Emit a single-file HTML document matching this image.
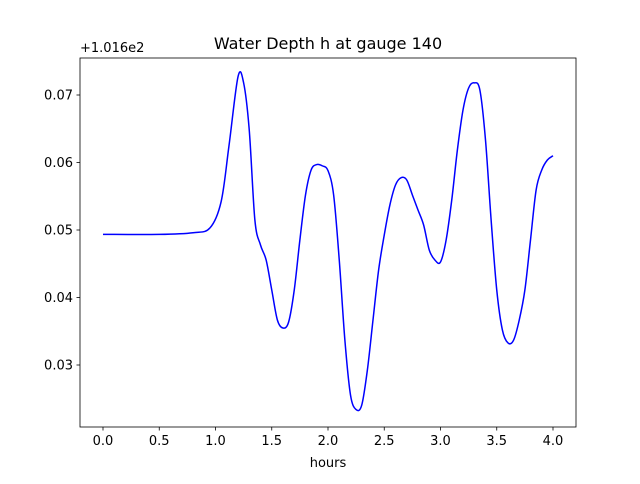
<!DOCTYPE html>
<html><head><meta charset="utf-8"><style>
body{margin:0;background:#fff;font-family:"DejaVu Sans","Liberation Sans",sans-serif}
</style></head><body>
<svg id="c" width="640" height="480" xmlns="http://www.w3.org/2000/svg" font-family="DejaVu Sans, Liberation Sans, sans-serif"></svg>
<script>
const times=[0,0.5,0.8,0.95,1.05,1.12,1.2,1.25,1.3,1.35,1.4,1.45,1.5,1.55,1.6,1.65,1.7,1.75,1.8,1.85,1.9,1.95,2.0,2.05,2.1,2.15,2.2,2.25,2.3,2.35,2.4,2.45,2.5,2.55,2.6,2.65,2.7,2.75,2.8,2.85,2.9,2.95,3.0,3.05,3.1,3.15,3.2,3.25,3.3,3.35,3.4,3.45,3.5,3.55,3.6,3.65,3.7,3.75,3.8,3.85,3.9,3.95,4.0];
const depth=[0.04935,0.04935,0.04960,0.05030,0.05420,0.06250,0.07270,0.07180,0.06481,0.05148,0.04778,0.04556,0.04111,0.03667,0.03548,0.03637,0.04111,0.04852,0.05519,0.05889,0.05970,0.05950,0.05880,0.05519,0.04556,0.03370,0.02556,0.02340,0.02407,0.02926,0.03667,0.04407,0.04926,0.05370,0.05667,0.05775,0.05741,0.05519,0.05296,0.05074,0.04704,0.04556,0.04526,0.04852,0.05444,0.06185,0.06778,0.07104,0.07180,0.07074,0.06333,0.05148,0.04111,0.03519,0.03326,0.03370,0.03667,0.04111,0.04852,0.05593,0.05889,0.06037,0.06100];
const xTicks=[0,0.5,1,1.5,2,2.5,3,3.5,4];
const xTickLabels=["0.0","0.5","1.0","1.5","2.0","2.5","3.0","3.5","4.0"];
const yTicks=[0.03,0.04,0.05,0.06,0.07];
const yTickLabels=["0.03","0.04","0.05","0.06","0.07"];
const svg=document.getElementById('c');const NS='http://www.w3.org/2000/svg';
const L=80,R=576,T=58,B=427;
const sx=v=>103+v*112.5, sy=v=>95+(0.07-v)*6750;
function add(tag,attrs,name,txt){const e=document.createElementNS(NS,tag);for(const k in attrs)e.setAttribute(k,attrs[k]);


if(txt!==undefined)e.textContent=txt;svg.appendChild(e);return e;}
add('rect',{x:L,y:T,width:R-L,height:B-T,fill:'#fff',stroke:'none'},'plot-area');
const P=times.map((t,i)=>[sx(t),sy(depth[i])]);
let d=`M${P[0][0]},${P[0][1]}`;
for(let i=0;i<P.length-1;i++){const p0=P[i-1]||P[i],p1=P[i],p2=P[i+1],p3=P[i+2]||P[i+1];
d+=` C${p1[0]+(p2[0]-p0[0])/6},${p1[1]+(p2[1]-p0[1])/6} ${p2[0]-(p3[0]-p1[0])/6},${p2[1]-(p3[1]-p1[1])/6} ${p2[0]},${p2[1]}`;}
add('path',{d:d,fill:'none',stroke:'#0000ff','stroke-width':1.5},'depth-line');
add('rect',{x:L,y:T,width:R-L,height:B-T,fill:'none',stroke:'#000','stroke-width':0.8},'axes-frame');
xTicks.forEach((v,i)=>{const x=sx(v);add('line',{x1:x,x2:x,y1:B,y2:B+3.5,stroke:'#000','stroke-width':0.8},'x-tick');
add('text',{x:x,y:B+18,'font-size':13,'text-anchor':'middle'},'x-tick-label',xTickLabels[i]);});
yTicks.forEach((v,i)=>{const y=sy(v);add('line',{x1:L,x2:L-3.5,y1:y,y2:y,stroke:'#000','stroke-width':0.8},'y-tick');
add('text',{x:L-7,y:y+4.5,'font-size':13,'text-anchor':'end'},'y-tick-label',yTickLabels[i]);});
add('text',{x:80,y:52,'font-size':13},'y-offset-label','+1.016e2');
add('text',{x:328,y:49,'font-size':16,'text-anchor':'middle'},'chart-title','Water Depth h at gauge 140');
add('text',{x:328,y:467,'font-size':13,'text-anchor':'middle'},'x-axis-title','hours');
</script>
</body></html>
